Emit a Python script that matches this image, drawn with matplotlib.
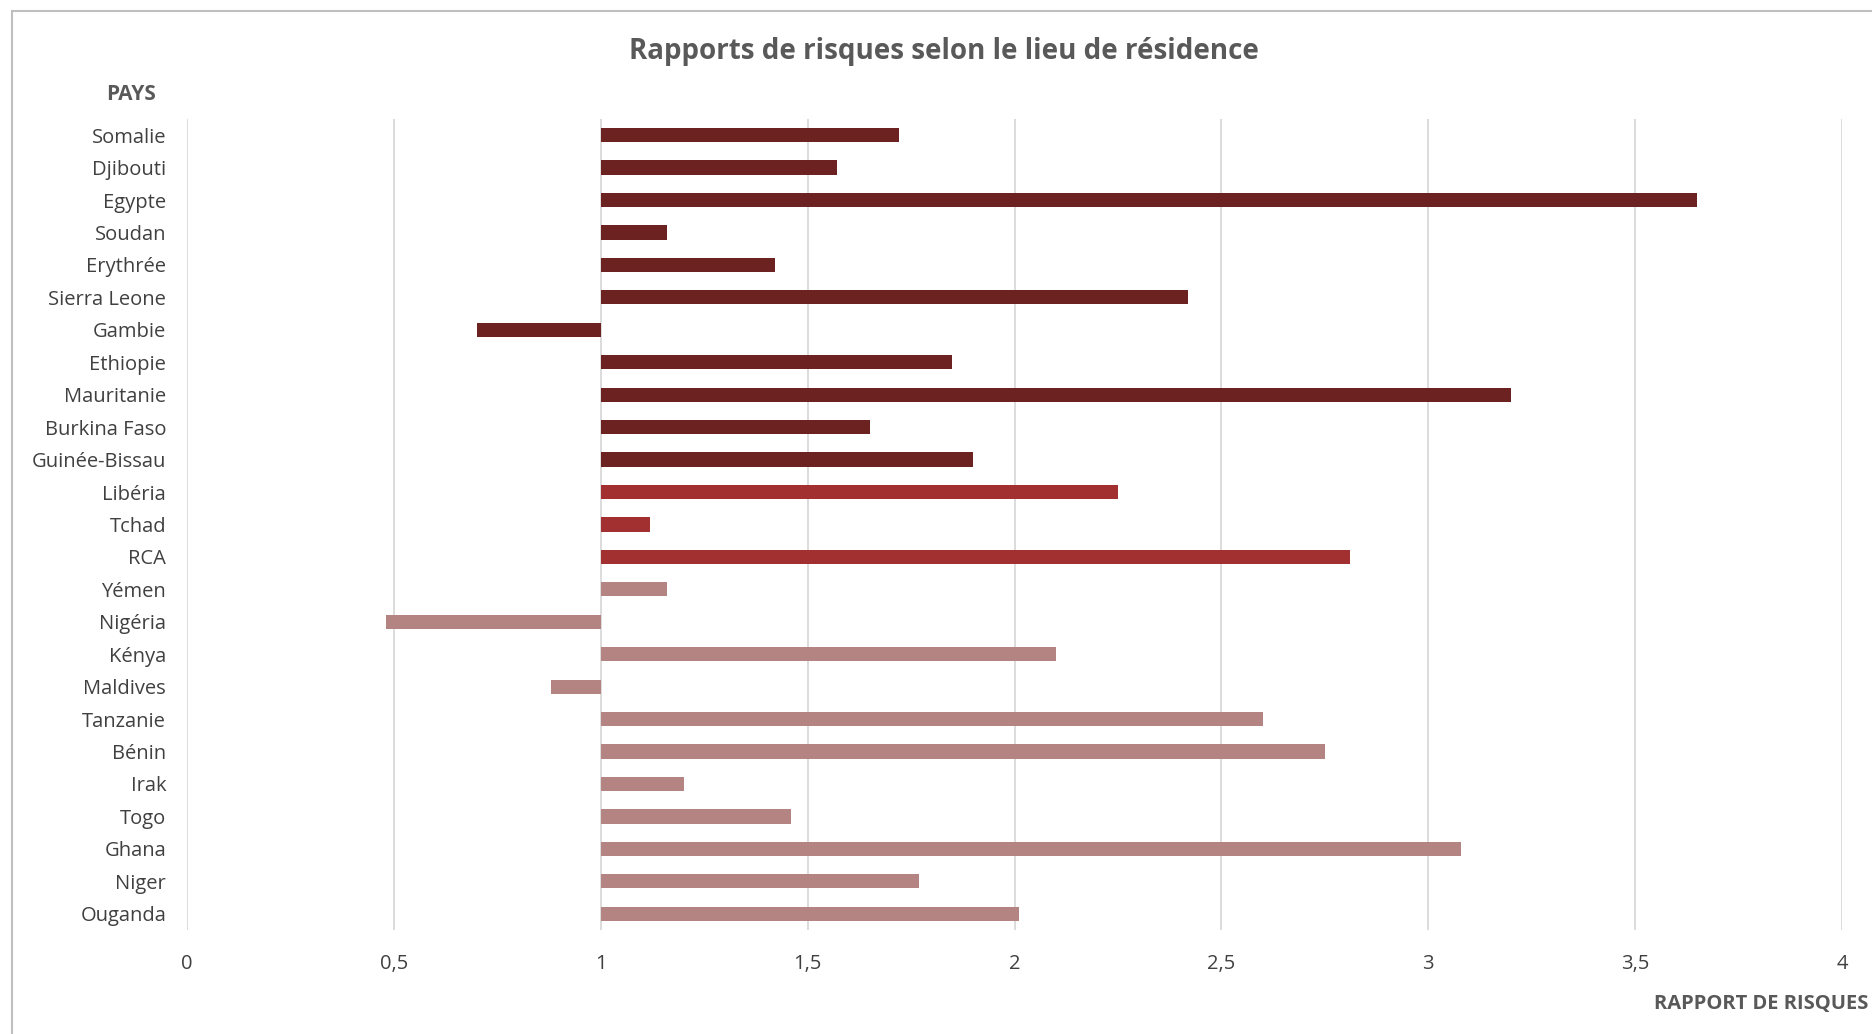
import matplotlib.pyplot as plt
from matplotlib.patches import Rectangle

plt.rcParams['font.family'] = ['Open Sans', 'DejaVu Sans']

pays = ['Somalie', 'Djibouti', 'Egypte', 'Soudan', 'Erythrée', 'Sierra Leone',
        'Gambie', 'Ethiopie', 'Mauritanie', 'Burkina Faso', 'Guinée-Bissau',
        'Libéria', 'Tchad', 'RCA', 'Yémen', 'Nigéria', 'Kénya', 'Maldives',
        'Tanzanie', 'Bénin', 'Irak', 'Togo', 'Ghana', 'Niger', 'Ouganda']
rapports = [1.72, 1.57, 3.65, 1.16, 1.42, 2.42,
            0.70, 1.85, 3.20, 1.65, 1.90,
            2.25, 1.12, 2.81, 1.16, 0.48, 2.10, 0.88,
            2.60, 2.75, 1.20, 1.46, 3.08, 1.77, 2.01]
groupes = ['fonce'] * 11 + ['moyen'] * 3 + ['clair'] * 11
couleurs = {'fonce': '#6B2220', 'moyen': '#A33030', 'clair': '#B38481'}
ticks_x = [0, 0.5, 1, 1.5, 2, 2.5, 3, 3.5, 4]
base = 1

fig = plt.figure(figsize=(18.72, 10.34), dpi=100)
ax = fig.add_axes([0.0999, 0.1006, 0.8841, 0.7844])

ypos = list(range(len(pays)))
ax.barh(ypos, [v - base for v in rapports], left=base, height=0.44,
        color=[couleurs[g] for g in groupes], zorder=3)

ax.set_xlim(0, 4)
ax.set_ylim(len(pays) - 0.5, -0.5)
ax.set_xticks(ticks_x)
ax.set_xticklabels([str(t).replace('.', ',') if t % 1 else str(int(t)) for t in ticks_x])
ax.set_yticks(ypos)
ax.set_yticklabels(pays)
ax.tick_params(axis='both', length=0, labelsize=14.5, colors='#404040')
ax.tick_params(axis='x', pad=17)
ax.tick_params(axis='y', pad=15)
ax.grid(axis='x', color='#D9D9D9', linewidth=1.3, zorder=0)
for s in ax.spines.values():
    s.set_visible(False)

fig.text(0.504, 0.950, 'Rapports de risques selon le lieu de résidence',
         ha='center', va='center', fontsize=20, fontweight='bold', color='#595959')
fig.text(0.070, 0.909, 'PAYS', ha='center', va='center', fontsize=15,
         fontweight='bold', color='#595959')
fig.text(0.998, 0.029, 'RAPPORT DE RISQUES', ha='right', va='center', fontsize=14.5,
         fontweight='bold', color='#595959')

fig.patches.append(Rectangle((12 / 1872, -0.1), 1.2, 1 - 11 / 1034 + 0.1,
                             transform=fig.transFigure, fill=False,
                             edgecolor='#BFBFBF', linewidth=1.5))

fig.savefig('out.png', dpi=100)
